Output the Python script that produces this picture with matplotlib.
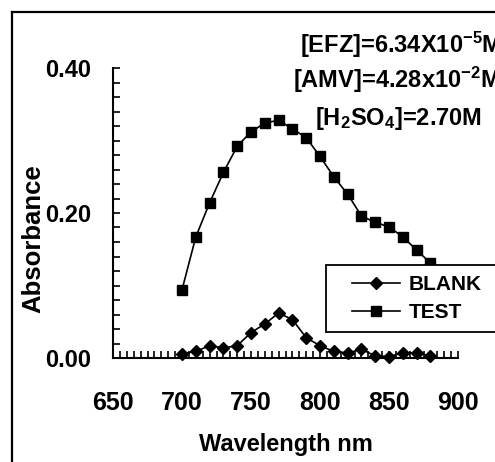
import matplotlib
matplotlib.use("Agg")
import matplotlib.pyplot as plt
from matplotlib.lines import Line2D
from matplotlib.patches import Rectangle
from matplotlib.ticker import MultipleLocator, FormatStrFormatter

plt.rcParams['font.family'] = ['Liberation Sans', 'DejaVu Sans']
plt.rcParams['font.weight'] = 'bold'
plt.rcParams['mathtext.fontset'] = 'custom'
plt.rcParams['mathtext.rm'] = 'Liberation Sans:bold'
plt.rcParams['mathtext.bf'] = 'Liberation Sans:bold'
plt.rcParams['mathtext.default'] = 'bf'

# Wavelength (nm) and absorbance readings
wavelength = [700, 710, 720, 730, 740, 750, 760, 770, 780, 790,
              800, 810, 820, 830, 840, 850, 860, 870, 880]
blank = [0.006, 0.009, 0.017, 0.014, 0.017, 0.035, 0.047, 0.062, 0.053, 0.028,
         0.017, 0.009, 0.007, 0.012, 0.003, 0.002, 0.007, 0.007, 0.003]
test = [0.094, 0.167, 0.214, 0.256, 0.292, 0.312, 0.324, 0.328, 0.316, 0.304,
        0.278, 0.250, 0.226, 0.196, 0.187, 0.181, 0.167, 0.149, 0.131]

conditions = [r'[EFZ]=6.34X10$^{-5}$M',
              r'[AMV]=4.28x10$^{-2}$M',
              r'[H$_2$SO$_4$]=2.70M']

fig = plt.figure(figsize=(4.95, 4.62), dpi=100)
ax = fig.add_axes([113 / 495, 1 - 358 / 462, 345 / 495, 290 / 462])

ax.plot(wavelength, blank, color='black', lw=1.2, marker='D', ms=6.5,
        label='BLANK', clip_on=False, zorder=3)
ax.plot(wavelength, test, color='black', lw=1.2, marker='s', ms=6.5,
        label='TEST', clip_on=False, zorder=3)

ax.set_xlim(650, 900)
ax.set_ylim(0, 0.40)
ax.xaxis.set_major_locator(MultipleLocator(50))
ax.xaxis.set_minor_locator(MultipleLocator(5))
ax.yaxis.set_major_locator(MultipleLocator(0.2))
ax.yaxis.set_minor_locator(MultipleLocator(0.02))
ax.yaxis.set_major_formatter(FormatStrFormatter('%.2f'))

for s in ['top', 'right']:
    ax.spines[s].set_visible(False)
for s in ['left', 'bottom']:
    ax.spines[s].set_linewidth(1.5)

ax.tick_params(axis='both', which='both', direction='in', length=5, width=1.2)
ax.tick_params(axis='y', which='major', pad=16, labelsize=17)
ax.tick_params(axis='x', which='major', pad=24, labelsize=18)

ax.set_xlabel('Wavelength nm', fontsize=17, fontweight='bold', labelpad=13)
ax.set_ylabel('Absorbance', fontsize=18.5, fontweight='bold')
ax.yaxis.set_label_coords(-0.195, 0.41)

# legend box runs past the right edge, as in the original
box = Rectangle((0.617, 0.09), 0.6, 0.231, transform=ax.transAxes,
                facecolor='white', edgecolor='black', lw=1.3,
                clip_on=False, zorder=4)
ax.add_patch(box)
leg = ax.legend(loc='upper left', bbox_to_anchor=(0.67, 0.315),
                fontsize=15, frameon=False, handlelength=2.3,
                handletextpad=0.4, borderaxespad=0, labelspacing=0.45)
leg.set_zorder(5)

ys = [1 - 53 / 462, 1 - 88 / 462, 1 - 125 / 462]
xs = [300 / 495, 293 / 495, 315 / 495]
for x, y, t in zip(xs, ys, conditions):
    fig.text(x, y, t, fontsize=17, fontweight='bold', ha='left', va='baseline')

# outer frame around the figure
fig.add_artist(Line2D([12 / 495, 12 / 495], [1 - 12 / 462, -0.1], color='black', lw=1.6))
fig.add_artist(Line2D([12 / 495, 1.1], [1 - 12 / 462, 1 - 12 / 462], color='black', lw=1.6))

fig.savefig('out.png', dpi=100)
